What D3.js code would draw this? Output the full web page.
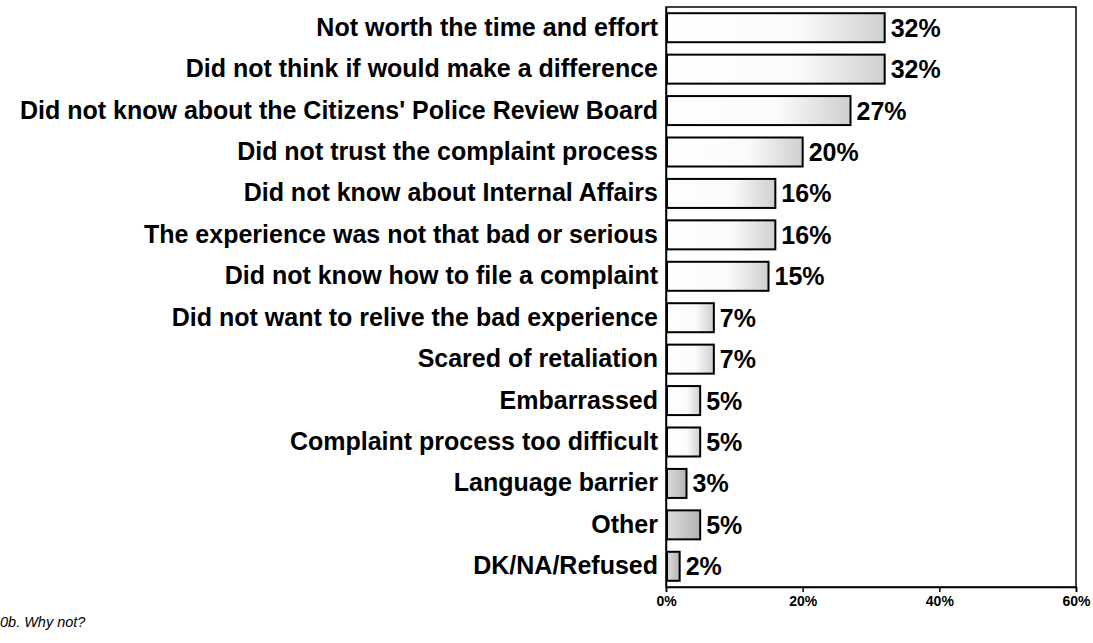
<!DOCTYPE html>
<html>
<head>
<meta charset="utf-8">
<script src="https://cdn.jsdelivr.net/npm/d3@7"></script>
<style>
  body { margin: 0; background: #fff; }
  svg { display: block; font-family: "Liberation Sans", Arial, sans-serif; }
</style>
</head>
<body>
<svg id="chart"></svg>
<script>
/* chart data */
const reasons = [
  "Not worth the time and effort",
  "Did not think if would make a difference",
  "Did not know about the Citizens' Police Review Board",
  "Did not trust the complaint process",
  "Did not know about Internal Affairs",
  "The experience was not that bad or serious",
  "Did not know how to file a complaint",
  "Did not want to relive the bad experience",
  "Scared of retaliation",
  "Embarrassed",
  "Complaint process too difficult",
  "Language barrier",
  "Other",
  "DK/NA/Refused"
];
const percents = [32, 32, 27, 20, 16, 16, 15, 7, 7, 5, 5, 3, 5, 2];
const xTicks = [0, 20, 40, 60];
const footnote = "0b. Why not?";

const W = 1093, H = 643;
const plot = { left: 666, right: 1076, top: 7, bottom: 587 };

const svg = d3.select("#chart").attr("width", W).attr("height", H);

/* stippled-looking fills */
const defs = svg.append("defs");
const light = defs.append("linearGradient").attr("id", "fillLight");
light.append("stop").attr("offset", "0").attr("stop-color", "#ffffff");
light.append("stop").attr("offset", "0.6").attr("stop-color", "#fbfbfb");
light.append("stop").attr("offset", "1").attr("stop-color", "#cfcfcf");
const dense = defs.append("linearGradient").attr("id", "fillDense");
dense.append("stop").attr("offset", "0").attr("stop-color", "#dcdcdc");
dense.append("stop").attr("offset", "1").attr("stop-color", "#b4b4b4");

const x = d3.scaleLinear().domain([0, 60]).range([plot.left, plot.right]);
const y = d3.scaleBand().domain(reasons).range([plot.top, plot.bottom])
  .paddingInner(0.3).paddingOuter(0.15);

/* frame */
svg.append("rect")
  .attr("x", plot.left).attr("y", plot.top)
  .attr("width", plot.right - plot.left).attr("height", plot.bottom - plot.top)
  .attr("fill", "none").attr("stroke", "#000").attr("stroke-width", 1.5);

/* x axis */
const xAxis = svg.append("g")
  .attr("transform", `translate(0, ${plot.bottom})`)
  .call(d3.axisBottom(x).tickValues(xTicks).tickSize(5).tickFormat(d => d + "%"));
xAxis.select(".domain").attr("stroke-width", 1.5);
xAxis.selectAll(".tick line").attr("stroke-width", 1.5);
xAxis.selectAll("text")
  .attr("font-size", 14).attr("font-weight", "bold").attr("fill", "#000")
  .attr("y", 9).attr("dy", "0.71em");

/* left axis line + labels */
const yAxis = svg.append("g")
  .attr("transform", `translate(${plot.left}, 0)`)
  .call(d3.axisLeft(y).tickSize(0).tickPadding(8));
yAxis.select(".domain").attr("stroke-width", 1.5);
yAxis.selectAll("text")
  .attr("font-size", 25).attr("font-weight", "bold").attr("fill", "#000");

/* bars */
const data = reasons.map((r, i) => ({ reason: r, value: percents[i], i }));
svg.append("g").selectAll("rect")
  .data(data).join("rect")
  .attr("x", x(0) + 1)
  .attr("y", d => y(d.reason))
  .attr("width", d => x(d.value) - x(0) - 1)
  .attr("height", y.bandwidth())
  .attr("fill", d => d.i >= 11 ? "url(#fillDense)" : "url(#fillLight)")
  .attr("stroke", "#000").attr("stroke-width", 2);

/* value labels */
svg.append("g").selectAll("text")
  .data(data).join("text")
  .attr("x", d => x(d.value) + 6)
  .attr("y", d => y(d.reason) + y.bandwidth() / 2)
  .attr("dy", "0.36em")
  .attr("font-size", 25).attr("font-weight", "bold")
  .text(d => d.value + "%");

/* footnote */
svg.append("text")
  .attr("x", 0).attr("y", 627)
  .attr("font-size", 14.5).attr("font-style", "italic")
  .text(footnote);
</script>
</body>
</html>
